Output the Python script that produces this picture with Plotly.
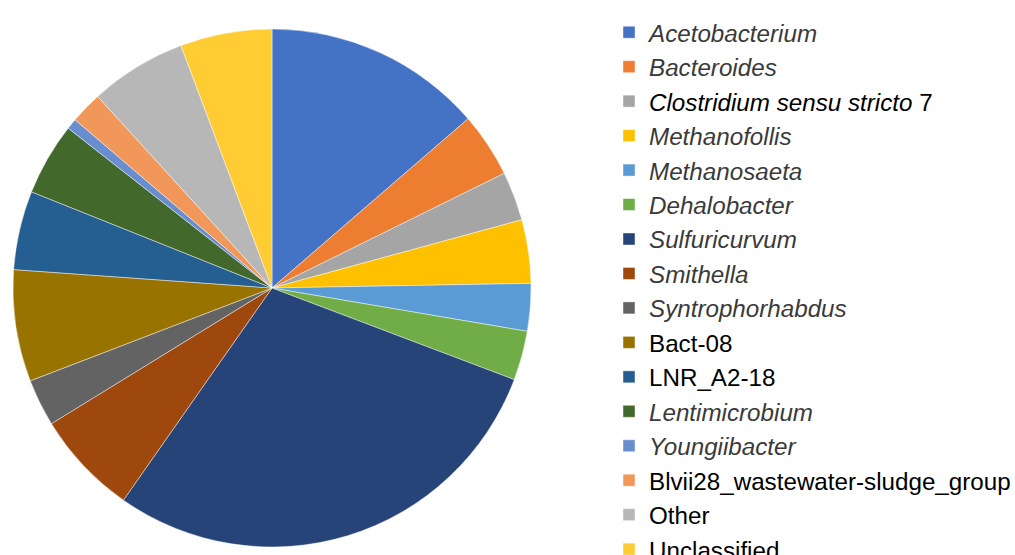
import plotly.graph_objects as go

labels = [
    "Acetobacterium", "Bacteroides", "Clostridium sensu stricto 7", "Methanofollis",
    "Methanosaeta", "Dehalobacter", "Sulfuricurvum", "Smithella", "Syntrophorhabdus",
    "Bact-08", "LNR_A2-18", "Lentimicrobium", "Youngiibacter",
    "Blvii28_wastewater-sludge_group", "Other", "Unclassified",
]
values = [13.67, 4.03, 3.06, 3.96, 2.96, 3.08, 28.97, 6.50, 2.94,
          6.97, 4.92, 4.53, 0.67, 2.00, 6.03, 5.72]
colors = ["#4472C4", "#ED7D31", "#A5A5A5", "#FFC000", "#5B9BD5", "#70AD47",
          "#264478", "#9E480E", "#636363", "#997300", "#255E91", "#43682B",
          "#698ED0", "#F1975A", "#B7B7B7", "#FFCD33"]

italic_names = {"Acetobacterium", "Bacteroides", "Methanofollis", "Methanosaeta",
                "Dehalobacter", "Sulfuricurvum", "Smithella", "Syntrophorhabdus",
                "Lentimicrobium", "Youngiibacter"}


def fmt(name):
    if name in italic_names:
        return f'<span style="color:#3a3a3a"><i>{name}</i></span>'
    if name == "Clostridium sensu stricto 7":
        return '<i>Clostridium sensu stricto</i> 7'
    return name


W, H = 1015, 555
cx, cy, r = 272, 288, 259

fig = go.Figure(go.Pie(
    labels=[fmt(n) for n in labels],
    values=values,
    sort=False,
    direction="clockwise",
    rotation=0,
    marker=dict(colors=colors, line=dict(color="rgba(255,255,255,0.55)", width=0.8)),
    textinfo="none",
    hoverinfo="label+percent",
    domain=dict(x=[(cx - r) / W, (cx + r) / W], y=[(H - cy - r) / H, (H - cy + r) / H]),
))

fig.update_layout(
    width=W, height=H,
    margin=dict(l=0, r=0, t=0, b=0, autoexpand=False),
    paper_bgcolor="white",
    plot_bgcolor="white",
    font=dict(family="Liberation Sans, Arial, sans-serif", color="#000000"),
    showlegend=True,
    legend=dict(
        x=609 / W, xanchor="left",
        y=1 - 10 / H, yanchor="top",
        font=dict(size=24.2, family="Liberation Sans, Arial, sans-serif", color="#000000"),
        bgcolor="rgba(0,0,0,0)",
        maxheight=800,
        tracegroupgap=0,
    ),
)

fig.write_html("out.html")
